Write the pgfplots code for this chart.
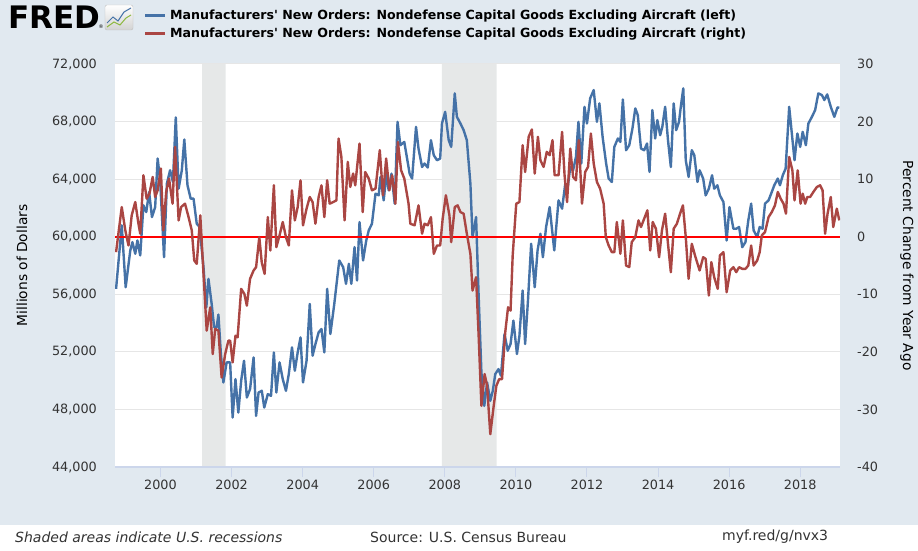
\documentclass[border=0pt]{standalone}
\usepackage{fontspec}
\setmainfont{DejaVu Sans}
\usepackage{pgfplots}
\pgfplotsset{compat=1.18}
\definecolor{fredbg}{HTML}{E1E9F0}
\definecolor{fredblue}{HTML}{4572A7}
\definecolor{fredred}{HTML}{AA4643}
\definecolor{gridc}{HTML}{E6E6E6}
\definecolor{recess}{HTML}{E6E8E8}
\definecolor{axisc}{HTML}{CCD6EB}
\definecolor{tickc}{HTML}{333333}
\definecolor{icongreen}{HTML}{8DB83F}
\begin{document}
\begin{tikzpicture}
\useasboundingbox (0pt,0pt) rectangle (918pt,550pt);
\fill[fredbg] (0pt,25pt) rectangle (918pt,550pt);
\fill[white] (0pt,0pt) rectangle (918pt,25pt);
% logo
\node[anchor=base west, inner sep=0pt, font=\fontsize{31}{31}\selectfont\bfseries] at (8pt,521pt) {FRED};
\node[anchor=base west, inner sep=0pt, font=\fontsize{5}{5}\selectfont] at (98.5pt,521pt) {®};
\shade[top color=white, bottom color=gray!35, draw=gray!50, rounded corners=2pt] (105pt,520pt) rectangle (133pt,545pt);
\draw[fredblue, line width=1pt] (107pt,527pt) -- (113pt,533pt) -- (118pt,529pt) -- (124pt,538pt) -- (131pt,542pt);
\draw[icongreen, line width=1pt] (107pt,523pt) -- (114pt,528pt) -- (120pt,525pt) -- (126pt,532pt) -- (131pt,535pt);
% legend
\draw[fredblue, line width=3pt] (145pt,534pt) -- (165pt,534pt);
\draw[fredred, line width=3pt] (145pt,516pt) -- (165pt,516pt);
\node[anchor=west, inner sep=0pt, font=\fontsize{12.6}{14}\selectfont\bfseries] at (170pt,534pt) {Manufacturers\textquotesingle\ New Orders: Nondefense Capital Goods Excluding Aircraft (left)};
\node[anchor=west, inner sep=0pt, font=\fontsize{12.6}{14}\selectfont\bfseries] at (170pt,516pt) {Manufacturers\textquotesingle\ New Orders: Nondefense Capital Goods Excluding Aircraft (right)};
% footer
\node[anchor=west, inner sep=0pt, font=\fontsize{14}{16}\selectfont\itshape, text=tickc] at (15pt,13pt) {Shaded areas indicate U.S. recessions};
\node[anchor=west, inner sep=0pt, font=\fontsize{14}{16}\selectfont, text=tickc] at (370pt,13pt) {Source: U.S. Census Bureau};
\node[anchor=west, inner sep=0pt, font=\fontsize{14}{16}\selectfont, text=tickc] at (722pt,13pt) {myf.red/g/nvx3};

\begin{axis}[
  at={(115pt,83pt)}, anchor=south west,
  scale only axis, width=725pt, height=403pt,
  xmin=1998.72, xmax=2019.12,
  ymin=44000, ymax=72000,
  ytick={44000,48000,...,72000},
  scaled y ticks=false,
  xtick={2000,2002,...,2018},
  xticklabels={2000,2002,2004,2006,2008,2010,2012,2014,2016,2018},
  axis background/.style={fill=white},
  axis line style={draw=none},
  ymajorgrids, grid style={gridc, line width=1pt},
  tick align=outside,
  xtick pos=left,
  major tick length=10pt,
  xtick style={axisc, line width=1pt},
  ytick style={draw=none},
  /pgf/number format/.cd, fixed, 1000 sep={,}, assume math mode=true, /pgfplots/.cd,
  yticklabel style={anchor=east, inner sep=0pt, xshift=-8pt, font=\fontsize{12.8}{14}\selectfont, text=tickc},
  xticklabel style={anchor=north, inner sep=0pt, yshift=-3pt, font=\fontsize{12.8}{14}\selectfont, text=tickc},
  ylabel={Millions of Dollars},
  ylabel style={at={(axis description cs:-0.1283,0.5)}, anchor=center, font=\fontsize{13.8}{15}\selectfont, text=black},
]
\addplot[draw=none, fill=recess] coordinates {(2001.17,44000) (2001.17,72000) (2001.83,72000) (2001.83,44000)} \closedcycle;
\addplot[draw=none, fill=recess] coordinates {(2007.92,44000) (2007.92,72000) (2009.46,72000) (2009.46,44000)} \closedcycle;
\draw[axisc, line width=1.5pt] (rel axis cs:0,0) -- (rel axis cs:1,0);
\addplot[fredblue, line width=2.4pt, line join=round] coordinates {
(1998.75,56377) (1998.91,60786) (1999.02,56489) (1999.15,59045) (1999.21,59624) (1999.29,58815) (1999.35,59742) (1999.43,58697) (1999.52,62179) (1999.60,61713) (1999.68,63106) (1999.76,61364) (1999.85,62061) (1999.92,65432) (1999.99,63921) (2000.10,58578) (2000.18,63687) (2000.27,64617) (2000.35,63803) (2000.43,68287) (2000.51,63339) (2000.60,64617) (2000.67,66755) (2000.76,63573) (2000.85,62646) (2000.93,62646) (2001.02,60905) (2001.10,60673) (2001.21,57882) (2001.29,55096) (2001.35,57074) (2001.44,55328) (2001.51,53703) (2001.58,53703) (2001.63,54588) (2001.70,51850) (2001.77,49873) (2001.86,51266) (2001.96,51266) (2002.03,47434) (2002.11,50107) (2002.19,47782) (2002.27,49990) (2002.35,51383) (2002.43,48828) (2002.52,49409) (2002.62,51614) (2002.69,47553) (2002.76,49176) (2002.85,49294) (2002.92,48131) (2003.02,49064) (2003.11,48946) (2003.19,51962) (2003.26,49176) (2003.35,51266) (2003.44,50107) (2003.53,49294) (2003.61,50456) (2003.70,52310) (2003.78,50687) (2003.86,51962) (2003.94,53006) (2004.01,49873) (2004.11,51383) (2004.20,55328) (2004.28,51731) (2004.36,52547) (2004.45,53356) (2004.53,53588) (2004.61,51962) (2004.69,56377) (2004.78,53238) (2004.89,55328) (2005.03,58349) (2005.14,57882) (2005.22,56726) (2005.30,58117) (2005.37,56726) (2005.46,59275) (2005.53,56957) (2005.60,61016) (2005.70,58349) (2005.79,59742) (2005.86,60437) (2005.95,60905) (2006.05,62993) (2006.14,62876) (2006.19,64153) (2006.28,62527) (2006.36,64385) (2006.42,63224) (2006.50,64385) (2006.59,62298) (2006.67,67981) (2006.75,66358) (2006.86,66587) (2007.01,64385) (2007.08,64040) (2007.19,67633) (2007.26,66128) (2007.36,64847) (2007.43,65084) (2007.52,64805) (2007.61,66706) (2007.69,65662) (2007.78,65314) (2007.87,65432) (2007.92,67866) (2008.01,68678) (2008.11,66706) (2008.18,66240) (2008.28,69959) (2008.34,68330) (2008.44,67866) (2008.53,67403) (2008.62,66706) (2008.72,63687) (2008.78,59971) (2008.88,61364) (2008.95,56029) (2009.03,50569) (2009.11,48250) (2009.19,49873) (2009.28,48598) (2009.35,49294) (2009.42,50456) (2009.51,50804) (2009.58,50339) (2009.68,53238) (2009.77,52080) (2009.85,52547) (2009.93,54170) (2010.03,51850) (2010.10,53125) (2010.19,56259) (2010.26,52547) (2010.34,55562) (2010.43,59512) (2010.53,56489) (2010.61,59045) (2010.69,60208) (2010.76,58578) (2010.85,60673) (2010.95,62061) (2011.08,59045) (2011.20,62527) (2011.30,61950) (2011.39,63687) (2011.46,63455) (2011.53,64847) (2011.61,64617) (2011.69,65543) (2011.76,67981) (2011.84,65084) (2011.93,69026) (2012.00,67866) (2012.09,69610) (2012.19,70189) (2012.28,67981) (2012.35,69263) (2012.44,66937) (2012.54,65084) (2012.61,64040) (2012.70,63803) (2012.77,66240) (2012.87,66825) (2012.94,66587) (2013.01,69541) (2013.10,66010) (2013.19,66358) (2013.28,67522) (2013.36,68914) (2013.43,68448) (2013.52,66128) (2013.61,66010) (2013.69,66477) (2013.76,64500) (2013.84,68796) (2013.92,66825) (2013.98,68100) (2014.06,67055) (2014.12,67633) (2014.20,69026) (2014.28,66706) (2014.36,64847) (2014.44,69263) (2014.51,67403) (2014.59,67981) (2014.64,69026) (2014.71,70307) (2014.78,65314) (2014.86,64153) (2014.95,66010) (2015.02,65662) (2015.11,63803) (2015.17,64617) (2015.27,64040) (2015.34,62876) (2015.43,63339) (2015.52,64269) (2015.58,63339) (2015.67,63573) (2015.74,62876) (2015.84,62410) (2015.93,59742) (2016.01,62061) (2016.12,60556) (2016.20,60556) (2016.28,60673) (2016.37,59275) (2016.46,59624) (2016.54,61135) (2016.62,62298) (2016.69,60437) (2016.79,59971) (2016.86,60673) (2016.94,60556) (2017.01,62298) (2017.11,62527) (2017.20,63106) (2017.27,63573) (2017.37,64040) (2017.43,63573) (2017.51,64269) (2017.59,64733) (2017.69,69026) (2017.76,67285) (2017.84,65314) (2017.92,67173) (2018.00,66240) (2018.07,67285) (2018.16,66358) (2018.23,67866) (2018.33,68330) (2018.42,68796) (2018.51,69959) (2018.61,69843) (2018.68,69494) (2018.76,69888) (2018.86,69026) (2018.96,68330) (2019.05,68984) (2019.10,68961)
};
\end{axis}

\begin{axis}[
  at={(115pt,83pt)}, anchor=south west,
  scale only axis, width=725pt, height=403pt,
  xmin=1998.72, xmax=2019.12,
  ymin=-40, ymax=30,
  ytick={-40,-30,...,30},
  axis x line=none,
  axis y line*=right,
  axis line style={draw=none},
  ytick style={draw=none},
  /pgf/number format/assume math mode=true,
  yticklabel style={anchor=west, inner sep=0pt, xshift=17pt, font=\fontsize{12.8}{14}\selectfont, text=tickc},
  ylabel={Percent Change from Year Ago},
  ylabel style={at={(axis description cs:1.0924,0.5)}, anchor=center, rotate=180, font=\fontsize{13.8}{15}\selectfont, text=black},
]
\addplot[red, line width=1.8pt] coordinates {(1998.72,0) (2019.12,0)};
\addplot[fredred, line width=2.4pt, line join=round] coordinates {
(1998.75,-2.68) (1998.91,5.15) (1999.01,1.1) (1999.10,-1.52) (1999.19,3.71) (1999.29,6.02) (1999.38,2.26) (1999.43,0.52) (1999.52,10.67) (1999.61,6.61) (1999.69,7.48) (1999.78,10.38) (1999.85,6.9) (1999.92,8.06) (2000.01,11.84) (2000.08,1.1) (2000.16,7.77) (2000.24,10.1) (2000.34,5.74) (2000.41,15.6) (2000.51,2.84) (2000.58,5.15) (2000.69,5.74) (2000.79,3.41) (2000.88,1.1) (2000.95,-4.13) (2001.02,-4.71) (2001.12,3.71) (2001.21,-6.45) (2001.30,-16.32) (2001.40,-12.26) (2001.47,-20.38) (2001.54,-16.0) (2001.63,-16.32) (2001.72,-24.45) (2001.82,-20.38) (2001.91,-18.06) (2001.96,-18.06) (2002.03,-21.83) (2002.11,-17.19) (2002.17,-17.48) (2002.27,-9.06) (2002.36,-9.93) (2002.43,-11.97) (2002.52,-7.32) (2002.62,-5.87) (2002.69,-5.29) (2002.78,-0.07) (2002.85,-4.5) (2002.93,-6.45) (2003.02,3.41) (2003.09,-2.39) (2003.19,8.93) (2003.26,-1.81) (2003.35,0.23) (2003.44,2.55) (2003.53,-0.07) (2003.61,-1.52) (2003.70,8.06) (2003.78,2.84) (2003.86,5.15) (2003.94,9.8) (2004.01,1.97) (2004.11,4.87) (2004.20,6.9) (2004.28,6.02) (2004.36,2.26) (2004.45,6.9) (2004.53,8.93) (2004.61,3.41) (2004.69,9.8) (2004.76,5.74) (2004.86,6.02) (2004.95,6.32) (2005.01,17.06) (2005.09,13.86) (2005.18,2.84) (2005.27,12.99) (2005.34,8.64) (2005.42,10.97) (2005.48,8.93) (2005.60,16.19) (2005.69,4.28) (2005.76,11.25) (2005.86,10.1) (2005.95,8.06) (2006.05,8.35) (2006.17,15.03) (2006.26,7.19) (2006.35,13.58) (2006.44,8.06) (2006.52,10.67) (2006.61,5.74) (2006.68,16.47) (2006.77,11.54) (2006.86,10.1) (2006.98,5.74) (2007.03,2.26) (2007.15,1.97) (2007.26,5.45) (2007.36,0.52) (2007.43,2.26) (2007.52,1.97) (2007.61,3.41) (2007.69,-2.97) (2007.78,-1.52) (2007.87,-1.52) (2007.94,3.13) (2008.03,7.19) (2008.13,3.71) (2008.18,-0.94) (2008.28,5.15) (2008.36,5.45) (2008.44,4.28) (2008.53,4.0) (2008.62,0.52) (2008.72,-2.97) (2008.78,-9.35) (2008.88,-7.03) (2008.95,-16.89) (2009.03,-29.38) (2009.12,-23.86) (2009.19,-25.9) (2009.28,-34.3) (2009.37,-29.67) (2009.45,-25.9) (2009.53,-24.73) (2009.61,-24.73) (2009.70,-16.61) (2009.78,-12.26) (2009.85,-12.84) (2009.91,-3.26) (2010.01,5.74) (2010.10,6.02) (2010.19,15.9) (2010.26,11.25) (2010.36,17.35) (2010.45,18.63) (2010.53,10.97) (2010.62,17.35) (2010.69,13.28) (2010.78,12.12) (2010.87,14.74) (2010.95,14.16) (2011.03,16.77) (2011.09,10.67) (2011.20,10.67) (2011.30,18.21) (2011.37,10.67) (2011.44,6.02) (2011.53,15.32) (2011.61,10.38) (2011.69,9.8) (2011.77,16.77) (2011.86,5.74) (2011.95,11.25) (2012.03,12.12) (2012.11,17.93) (2012.19,12.7) (2012.28,9.51) (2012.37,8.35) (2012.47,5.74) (2012.53,-0.07) (2012.61,-1.52) (2012.70,-2.68) (2012.77,-2.68) (2012.84,2.55) (2012.94,-2.97) (2013.01,2.84) (2013.10,-5.0) (2013.19,-5.29) (2013.26,-0.94) (2013.36,-0.07) (2013.45,2.84) (2013.52,1.68) (2013.61,3.13) (2013.70,4.58) (2013.78,-2.39) (2013.85,2.55) (2013.94,1.39) (2014.03,-3.55) (2014.11,1.1) (2014.20,4.0) (2014.28,-1.23) (2014.36,-6.16) (2014.44,1.39) (2014.53,2.26) (2014.62,4.0) (2014.70,5.45) (2014.78,-0.07) (2014.86,-7.32) (2014.95,-1.23) (2015.04,-3.26) (2015.17,-5.87) (2015.27,-3.55) (2015.34,-3.84) (2015.43,-10.22) (2015.50,-4.42) (2015.58,-7.03) (2015.68,-9.06) (2015.74,-3.26) (2015.84,-2.68) (2015.93,-9.64) (2016.03,-5.87) (2016.12,-5.29) (2016.20,-6.16) (2016.28,-5.29) (2016.37,-5.58) (2016.46,-5.58) (2016.54,-5.0) (2016.62,-1.52) (2016.69,-5.0) (2016.79,-4.13) (2016.86,-2.68) (2016.92,0.23) (2017.01,0.81) (2017.11,3.41) (2017.20,4.28) (2017.29,5.45) (2017.37,7.77) (2017.45,6.61) (2017.53,5.74) (2017.60,4.0) (2017.69,13.86) (2017.78,11.54) (2017.84,6.32) (2017.93,11.54) (2018.01,5.74) (2018.07,7.48) (2018.14,5.74) (2018.20,6.9) (2018.28,6.9) (2018.37,7.77) (2018.47,8.64) (2018.56,8.93) (2018.63,8.06) (2018.70,0.52) (2018.77,4.0) (2018.86,6.9) (2018.93,1.68) (2019.03,4.87) (2019.10,2.84)
};
\end{axis}
\end{tikzpicture}
\end{document}
